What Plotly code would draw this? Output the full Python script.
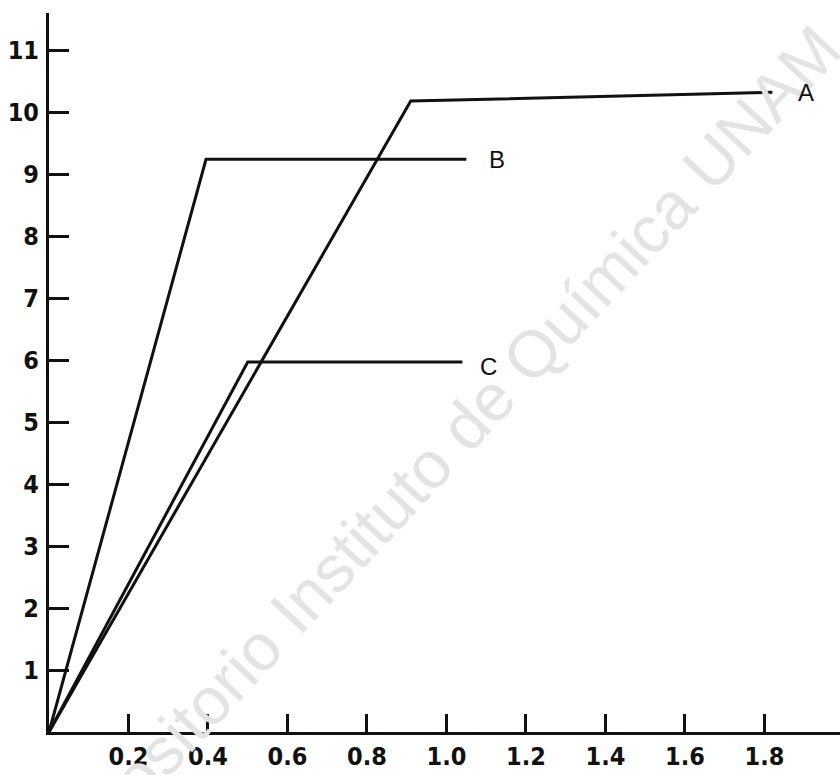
import plotly.graph_objects as go

# Data
a_x = [0.0, 0.91, 1.82]
a_y = [0.0, 10.18, 10.32]
b_x = [0.0, 0.395, 1.05]
b_y = [0.0, 9.24, 9.24]
c_x = [0.0, 0.50, 1.04]
c_y = [0.0, 5.97, 5.97]

series_names = ["A", "B", "C"]
label_pos = {"A": (1.905, 10.31), "B": (1.128, 9.23), "C": (1.106, 5.90)}

x_tickvals = [0.2, 0.4, 0.6, 0.8, 1.0, 1.2, 1.4, 1.6, 1.8]
x_ticktext = ["0.2", "0.4", "0.6", "0.8", "1.0", "1.2", "1.4", "1.6", "1.8"]
y_tickvals = [1, 2, 3, 4, 5, 6, 7, 8, 9, 10, 11]
y_ticktext = [str(v) for v in y_tickvals]

watermark = "Repositorio Instituto de Química UNAM"

fig = go.Figure()
for name, xs, ys in zip(series_names, [a_x, b_x, c_x], [a_y, b_y, c_y]):
    fig.add_trace(go.Scatter(x=xs, y=ys, mode="lines", name=name,
                             line=dict(color="#111111", width=3),
                             showlegend=False, hoverinfo="skip"))

tick_font = dict(family="DejaVu Sans Condensed, DejaVu Sans", size=25,
                 color="#111111", weight="bold")

# watermark
fig.add_annotation(text=watermark, xref="paper", yref="paper",
                   x=0.488, y=0.381, showarrow=False, textangle=-47,
                   font=dict(family="Liberation Sans, Arial, sans-serif", size=66,
                             color="#e3e3e3"))

for name in series_names:
    lx, ly = label_pos[name]
    fig.add_annotation(text=name, x=lx, y=ly, showarrow=False,
                       font=dict(family="Liberation Sans, Arial, sans-serif",
                                 size=24, color="#111111"))

fig.update_layout(
    width=840, height=775,
    margin=dict(l=49, r=0, t=13, b=43, autoexpand=False),
    paper_bgcolor="white", plot_bgcolor="white",
    xaxis=dict(range=[0, 1.99], showgrid=False, zeroline=False, automargin=False,
               showline=True, linecolor="#111111", linewidth=3,
               ticks="inside", ticklen=18, tickwidth=3, tickcolor="#111111",
               tickvals=x_tickvals, ticktext=x_ticktext, tickfont=tick_font,
               ticklabelstandoff=0),
    yaxis=dict(range=[0, 11.6], showgrid=False, zeroline=False, automargin=False,
               showline=True, linecolor="#111111", linewidth=3,
               ticks="inside", ticklen=20, tickwidth=3, tickcolor="#111111",
               tickvals=y_tickvals, ticktext=y_ticktext, tickfont=tick_font,
               ticklabelstandoff=2),
)

fig.write_html("out.html", config={"displayModeBar": False},
               post_script="document.body.style.margin='0px';document.body.style.overflow='hidden';")
